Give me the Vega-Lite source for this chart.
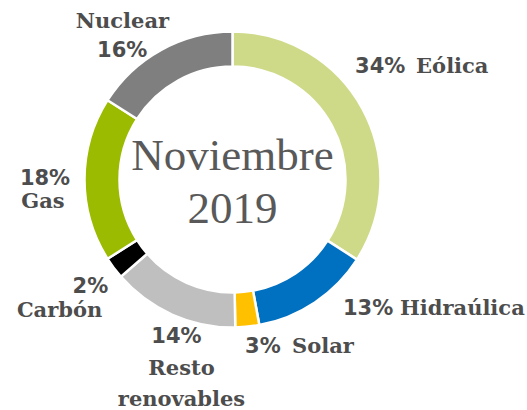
{
  "$schema": "https://vega.github.io/schema/vega-lite/v6.json",
  "width": 465,
  "height": 359,
  "autosize": "none",
  "padding": {"left": 0, "top": 0, "right": 62, "bottom": 51},
  "background": "white",
  "config": {"view": {"stroke": null}},
  "data": {
    "values": [
      {"orden": 1, "fuente": "Eólica", "share": 0.341},
      {"orden": 2, "fuente": "Hidraúlica", "share": 0.130},
      {"orden": 3, "fuente": "Solar", "share": 0.026},
      {"orden": 4, "fuente": "Resto renovables", "share": 0.139},
      {"orden": 5, "fuente": "Carbón", "share": 0.024},
      {"orden": 6, "fuente": "Gas", "share": 0.180},
      {"orden": 7, "fuente": "Nuclear", "share": 0.160}
    ]
  },
  "layer": [
    {
      "mark": {"type": "arc", "outerRadius": 148, "innerRadius": 113, "stroke": "white", "strokeWidth": 2.5},
      "encoding": {
        "theta": {"field": "share", "type": "quantitative", "stack": true},
        "order": {"field": "orden", "type": "quantitative"},
        "color": {
          "field": "fuente", "type": "nominal", "legend": null,
          "scale": {
            "domain": ["Eólica", "Hidraúlica", "Solar", "Resto renovables", "Carbón", "Gas", "Nuclear"],
            "range": ["#cfda88", "#0070c0", "#ffc000", "#bfbfbf", "#000000", "#9bbb00", "#7f7f7f"]
          }
        }
      }
    },
    {
      "mark": {"type": "text", "radius": 175, "align": "left", "baseline": "alphabetic", "dx": -31, "dy": -23, "font": "DejaVu Sans", "fontWeight": "bold", "fontSize": 21, "fill": "#4d4d4d"},
      "encoding": {
        "theta": {"field": "share", "type": "quantitative", "stack": true},
        "order": {"field": "orden", "type": "quantitative"},
        "text": {"condition": {"test": "datum.fuente === 'Eólica'", "field": "share", "type": "quantitative", "format": ".0%"}, "value": ""}
      }
    },
    {
      "mark": {"type": "text", "radius": 175, "align": "left", "baseline": "alphabetic", "dx": 30, "dy": -23, "font": "DejaVu Serif", "fontWeight": "bold", "fontSize": 21, "fill": "#4d4d4d"},
      "encoding": {
        "theta": {"field": "share", "type": "quantitative", "stack": true},
        "order": {"field": "orden", "type": "quantitative"},
        "text": {"condition": {"test": "datum.fuente === 'Eólica'", "field": "fuente", "type": "nominal"}, "value": ""}
      }
    },
    {
      "mark": {"type": "text", "radius": 175, "align": "left", "baseline": "alphabetic", "dx": 13, "dy": -10, "font": "DejaVu Sans", "fontWeight": "bold", "fontSize": 21, "fill": "#4d4d4d"},
      "encoding": {
        "theta": {"field": "share", "type": "quantitative", "stack": true},
        "order": {"field": "orden", "type": "quantitative"},
        "text": {"condition": {"test": "datum.fuente === 'Hidraúlica'", "field": "share", "type": "quantitative", "format": ".0%"}, "value": ""}
      }
    },
    {
      "mark": {"type": "text", "radius": 175, "align": "left", "baseline": "alphabetic", "dx": 70, "dy": -10, "font": "DejaVu Serif", "fontWeight": "bold", "fontSize": 21, "fill": "#4d4d4d"},
      "encoding": {
        "theta": {"field": "share", "type": "quantitative", "stack": true},
        "order": {"field": "orden", "type": "quantitative"},
        "text": {"condition": {"test": "datum.fuente === 'Hidraúlica'", "field": "fuente", "type": "nominal"}, "value": ""}
      }
    },
    {
      "mark": {"type": "text", "radius": 175, "align": "left", "baseline": "alphabetic", "dx": -5, "dy": -1, "font": "DejaVu Sans", "fontWeight": "bold", "fontSize": 21, "fill": "#4d4d4d"},
      "encoding": {
        "theta": {"field": "share", "type": "quantitative", "stack": true},
        "order": {"field": "orden", "type": "quantitative"},
        "text": {"condition": {"test": "datum.fuente === 'Solar'", "field": "share", "type": "quantitative", "format": ".0%"}, "value": ""}
      }
    },
    {
      "mark": {"type": "text", "radius": 175, "align": "left", "baseline": "alphabetic", "dx": 42, "dy": -1, "font": "DejaVu Serif", "fontWeight": "bold", "fontSize": 21, "fill": "#4d4d4d"},
      "encoding": {
        "theta": {"field": "share", "type": "quantitative", "stack": true},
        "order": {"field": "orden", "type": "quantitative"},
        "text": {"condition": {"test": "datum.fuente === 'Solar'", "field": "fuente", "type": "nominal"}, "value": ""}
      }
    },
    {
      "mark": {"type": "text", "radius": 175, "align": "center", "baseline": "alphabetic", "dx": 15, "dy": 3.5, "font": "DejaVu Sans", "fontWeight": "bold", "fontSize": 21, "fill": "#4d4d4d"},
      "encoding": {
        "theta": {"field": "share", "type": "quantitative", "stack": true},
        "order": {"field": "orden", "type": "quantitative"},
        "text": {"condition": {"test": "datum.fuente === 'Resto renovables'", "field": "share", "type": "quantitative", "format": ".0%"}, "value": ""}
      }
    },
    {
      "mark": {"type": "text", "radius": 175, "align": "center", "baseline": "alphabetic", "dx": 20, "dy": 35.5, "lineBreak": " ", "lineHeight": 31, "font": "DejaVu Serif", "fontWeight": "bold", "fontSize": 21, "fill": "#4d4d4d"},
      "encoding": {
        "theta": {"field": "share", "type": "quantitative", "stack": true},
        "order": {"field": "orden", "type": "quantitative"},
        "text": {"condition": {"test": "datum.fuente === 'Resto renovables'", "field": "fuente", "type": "nominal"}, "value": ""}
      }
    },
    {
      "mark": {"type": "text", "radius": 175, "align": "right", "baseline": "alphabetic", "dx": 16, "dy": 9, "font": "DejaVu Sans", "fontWeight": "bold", "fontSize": 21, "fill": "#4d4d4d"},
      "encoding": {
        "theta": {"field": "share", "type": "quantitative", "stack": true},
        "order": {"field": "orden", "type": "quantitative"},
        "text": {"condition": {"test": "datum.fuente === 'Carbón'", "field": "share", "type": "quantitative", "format": ".0%"}, "value": ""}
      }
    },
    {
      "mark": {"type": "text", "radius": 175, "align": "right", "baseline": "alphabetic", "dx": 10, "dy": 33, "font": "DejaVu Serif", "fontWeight": "bold", "fontSize": 21, "fill": "#4d4d4d"},
      "encoding": {
        "theta": {"field": "share", "type": "quantitative", "stack": true},
        "order": {"field": "orden", "type": "quantitative"},
        "text": {"condition": {"test": "datum.fuente === 'Carbón'", "field": "fuente", "type": "nominal"}, "value": ""}
      }
    },
    {
      "mark": {"type": "text", "radius": 175, "align": "center", "baseline": "alphabetic", "dx": -12.5, "dy": 5.5, "font": "DejaVu Sans", "fontWeight": "bold", "fontSize": 21, "fill": "#4d4d4d"},
      "encoding": {
        "theta": {"field": "share", "type": "quantitative", "stack": true},
        "order": {"field": "orden", "type": "quantitative"},
        "text": {"condition": {"test": "datum.fuente === 'Gas'", "field": "share", "type": "quantitative", "format": ".0%"}, "value": ""}
      }
    },
    {
      "mark": {"type": "text", "radius": 175, "align": "center", "baseline": "alphabetic", "dx": -14.5, "dy": 28.5, "font": "DejaVu Serif", "fontWeight": "bold", "fontSize": 21, "fill": "#4d4d4d"},
      "encoding": {
        "theta": {"field": "share", "type": "quantitative", "stack": true},
        "order": {"field": "orden", "type": "quantitative"},
        "text": {"condition": {"test": "datum.fuente === 'Gas'", "field": "fuente", "type": "nominal"}, "value": ""}
      }
    },
    {
      "mark": {"type": "text", "radius": 175, "align": "center", "baseline": "alphabetic", "dx": -26, "dy": 31, "font": "DejaVu Sans", "fontWeight": "bold", "fontSize": 21, "fill": "#4d4d4d"},
      "encoding": {
        "theta": {"field": "share", "type": "quantitative", "stack": true},
        "order": {"field": "orden", "type": "quantitative"},
        "text": {"condition": {"test": "datum.fuente === 'Nuclear'", "field": "share", "type": "quantitative", "format": ".0%"}, "value": ""}
      }
    },
    {
      "mark": {"type": "text", "radius": 175, "align": "center", "baseline": "alphabetic", "dx": -25.7, "dy": 2, "font": "DejaVu Serif", "fontWeight": "bold", "fontSize": 21, "fill": "#4d4d4d"},
      "encoding": {
        "theta": {"field": "share", "type": "quantitative", "stack": true},
        "order": {"field": "orden", "type": "quantitative"},
        "text": {"condition": {"test": "datum.fuente === 'Nuclear'", "field": "fuente", "type": "nominal"}, "value": ""}
      }
    },
    {
      "data": {"values": [{"titulo": "Noviembre 2019"}]},
      "mark": {"type": "text", "align": "center", "baseline": "alphabetic", "dy": -9.5, "lineBreak": " ", "lineHeight": 53, "font": "Liberation Serif", "fontSize": 45, "fill": "#595959"},
      "encoding": {
        "text": {"field": "titulo", "type": "nominal"}
      }
    }
  ]
}
